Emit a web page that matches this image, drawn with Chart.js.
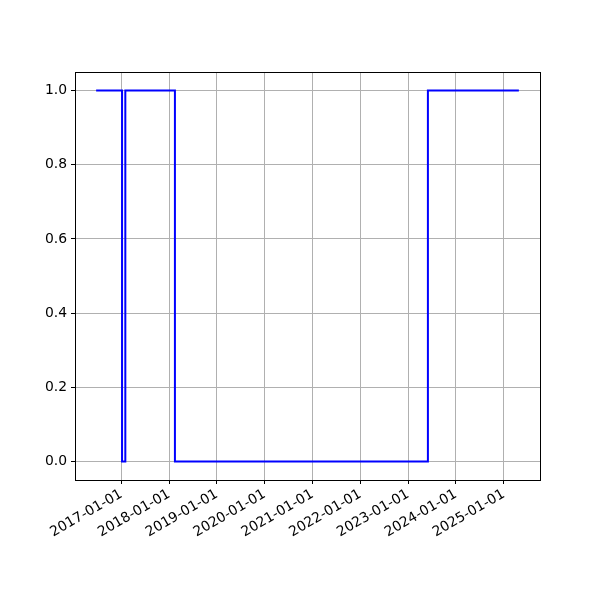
<!DOCTYPE html>
<html>
<head>
<meta charset="utf-8">
<script src="https://cdn.jsdelivr.net/npm/chart.js@4"></script>
<style>
  body { margin: 0; background: #fff; }
  #wrap { width: 600px; height: 600px; }
</style>
</head>
<body>
<div id="wrap"><canvas id="myChart" width="600" height="600"></canvas></div>
<script>
// step changes (value holds until the next date)
var stepDates = ["2016-06-22", "2017-01-06", "2017-01-31", "2018-02-14", "2023-06-01", "2025-04-26"];
var stepValues = [1, 0, 1, 0, 1, 1];
var tickYears = [2017, 2018, 2019, 2020, 2021, 2022, 2023, 2024, 2025];
var yTicks = [0, 0.2, 0.4, 0.6, 0.8, 1.0];

var pts = stepDates.map(function (d, i) {
  return { x: Date.parse(d + "T00:00:00Z"), y: stepValues[i] };
});
var xMin = pts[0].x, xMax = pts[pts.length - 1].x;
var xPad = (xMax - xMin) * 0.05;

function pad2(n) { return (n < 10 ? "0" : "") + n; }
function fmtDate(ms) {
  var d = new Date(ms);
  return d.getUTCFullYear() + "-" + pad2(d.getUTCMonth() + 1) + "-" + pad2(d.getUTCDate());
}

var frame = {
  id: "frame",
  afterDatasetsDraw: function (chart) {
    var a = chart.chartArea, ctx = chart.ctx;
    ctx.save();
    ctx.strokeStyle = "#000";
    ctx.lineWidth = 1;
    ctx.strokeRect(Math.round(a.left) + 0.5, Math.round(a.top) + 0.5,
      Math.round(a.right - a.left), Math.round(a.bottom - a.top));
    ctx.restore();
  }
};

Chart.defaults.font.family = "DejaVu Sans";
Chart.defaults.font.size = 13.9;
Chart.defaults.color = "#000";

new Chart("myChart", {
  type: "line",
  data: {
    datasets: [
      {
        data: pts,
        stepped: "before",
        borderColor: "#0000ff",
        borderWidth: 2,
        pointRadius: 0,
        fill: false,
      },
    ],
  },
  options: {
    responsive: false,
    animation: false,
    layout: { padding: { left: 0, right: 60, top: 72, bottom: 0 } },
    plugins: {
      legend: { display: false },
      tooltip: { enabled: false },
    },
    scales: {
      x: {
        type: "linear",
        min: xMin - xPad,
        max: xMax + xPad,
        afterBuildTicks: function (scale) {
          scale.ticks = tickYears.map(function (y) { return { value: Date.UTC(y, 0, 1) }; });
        },
        afterFit: function (scale) { scale.height = 120; },
        grid: { color: "#b0b0b0", lineWidth: 1, tickColor: "#000", tickLength: 4 },
        border: { display: false },
        ticks: {
          autoSkip: false,
          minRotation: 30,
          maxRotation: 30,
          padding: 2,
          callback: function (v) { return fmtDate(v); },
        },
      },
      y: {
        min: -0.05,
        max: 1.05,
        afterBuildTicks: function (scale) {
          scale.ticks = yTicks.map(function (v) { return { value: v }; });
        },
        afterFit: function (scale) { scale.width = 75; },
        grid: { color: "#b0b0b0", lineWidth: 1, tickColor: "#000", tickLength: 4 },
        border: { display: false },
        ticks: {
          padding: 4,
          callback: function (v) { return v.toFixed(1); },
        },
      },
    },
  },
  plugins: [frame],
});
</script>
</body>
</html>
